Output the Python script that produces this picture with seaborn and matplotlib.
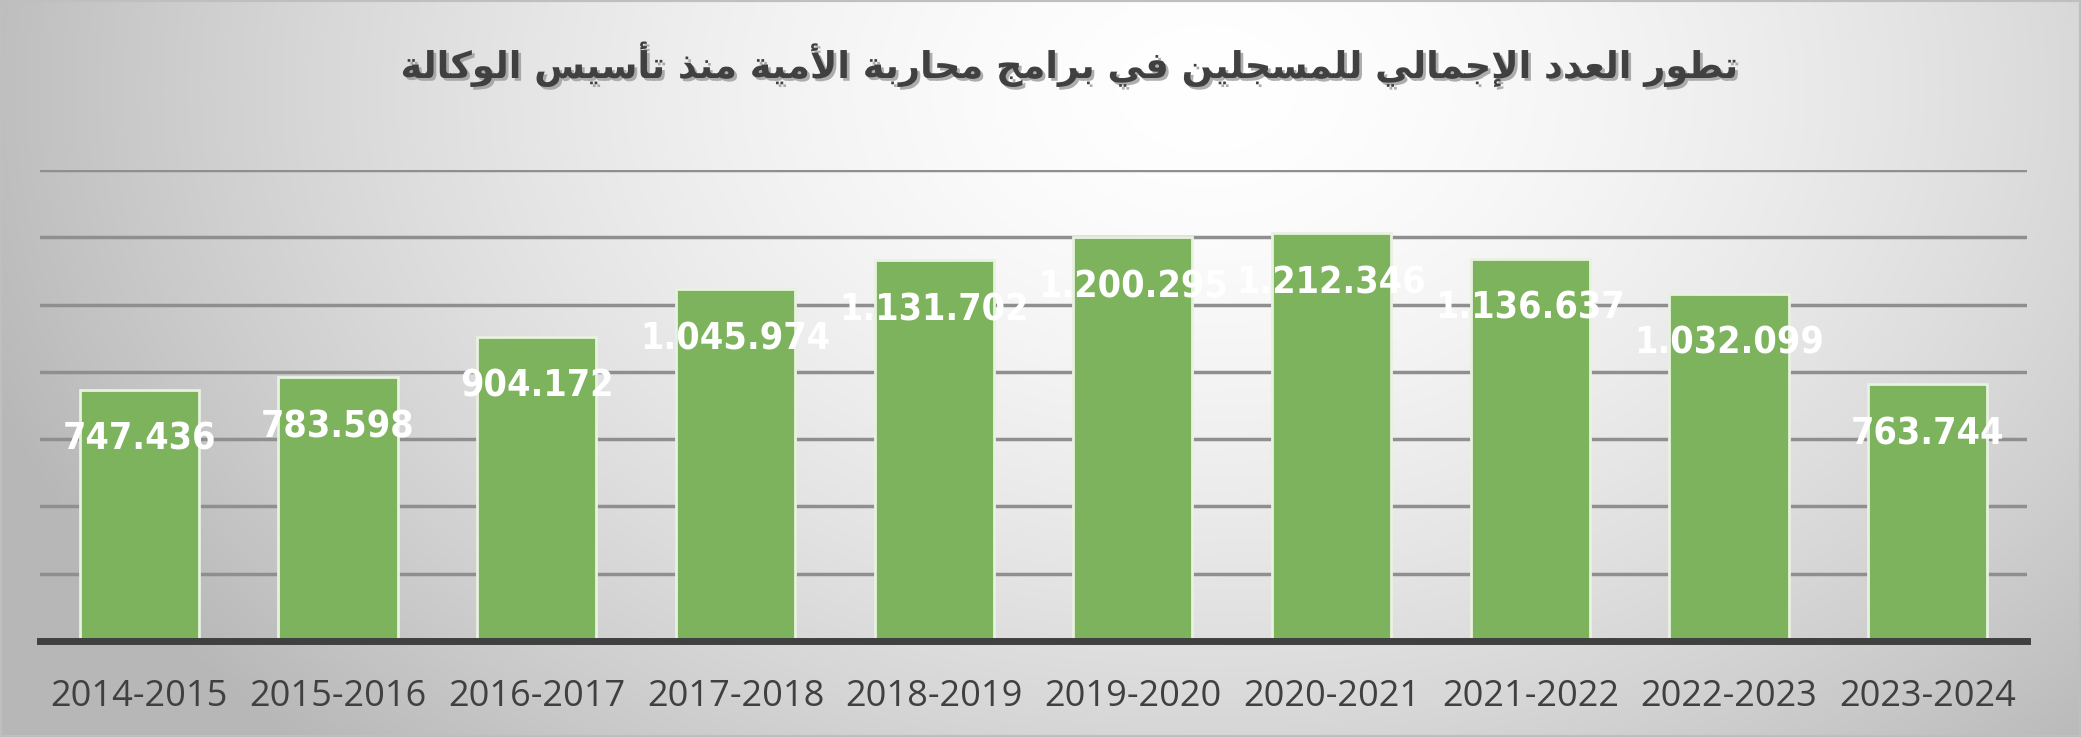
import numpy as np
import matplotlib
matplotlib.use("Agg")
import matplotlib.pyplot as plt
import matplotlib.patheffects as pe
import seaborn as sns

# ---------------- data ----------------
seasons = ["2014-2015", "2015-2016", "2016-2017", "2017-2018", "2018-2019",
           "2019-2020", "2020-2021", "2021-2022", "2022-2023", "2023-2024"]
enrolled = [747436, 783598, 904172, 1045974, 1131702,
            1200295, 1212346, 1136637, 1032099, 763744]
title_text = "تطور العدد الإجمالي للمسجلين في برامج محاربة الأمية منذ تأسيس الوكالة"

# ---------------- minimal Arabic shaping (matplotlib has no shaping/bidi) ----------------
FORMS = {
    "ا": (0xFE8D, 0xFE8E), "أ": (0xFE83, 0xFE84), "إ": (0xFE87, 0xFE88), "آ": (0xFE81, 0xFE82),
    "ب": (0xFE8F, 0xFE90, 0xFE91, 0xFE92), "ة": (0xFE93, 0xFE94),
    "ت": (0xFE95, 0xFE96, 0xFE97, 0xFE98), "ث": (0xFE99, 0xFE9A, 0xFE9B, 0xFE9C),
    "ج": (0xFE9D, 0xFE9E, 0xFE9F, 0xFEA0), "ح": (0xFEA1, 0xFEA2, 0xFEA3, 0xFEA4),
    "خ": (0xFEA5, 0xFEA6, 0xFEA7, 0xFEA8), "د": (0xFEA9, 0xFEAA), "ذ": (0xFEAB, 0xFEAC),
    "ر": (0xFEAD, 0xFEAE), "ز": (0xFEAF, 0xFEB0),
    "س": (0xFEB1, 0xFEB2, 0xFEB3, 0xFEB4), "ش": (0xFEB5, 0xFEB6, 0xFEB7, 0xFEB8),
    "ص": (0xFEB9, 0xFEBA, 0xFEBB, 0xFEBC), "ض": (0xFEBD, 0xFEBE, 0xFEBF, 0xFEC0),
    "ط": (0xFEC1, 0xFEC2, 0xFEC3, 0xFEC4), "ظ": (0xFEC5, 0xFEC6, 0xFEC7, 0xFEC8),
    "ع": (0xFEC9, 0xFECA, 0xFECB, 0xFECC), "غ": (0xFECD, 0xFECE, 0xFECF, 0xFED0),
    "ف": (0xFED1, 0xFED2, 0xFED3, 0xFED4), "ق": (0xFED5, 0xFED6, 0xFED7, 0xFED8),
    "ك": (0xFED9, 0xFEDA, 0xFEDB, 0xFEDC), "ل": (0xFEDD, 0xFEDE, 0xFEDF, 0xFEE0),
    "م": (0xFEE1, 0xFEE2, 0xFEE3, 0xFEE4), "ن": (0xFEE5, 0xFEE6, 0xFEE7, 0xFEE8),
    "ه": (0xFEE9, 0xFEEA, 0xFEEB, 0xFEEC), "و": (0xFEED, 0xFEEE),
    "ي": (0xFEF1, 0xFEF2, 0xFEF3, 0xFEF4), "ى": (0xFEEF, 0xFEF0),
}
LAM_ALEF = {"آ": (0xFEF5, 0xFEF6), "أ": (0xFEF7, 0xFEF8), "إ": (0xFEF9, 0xFEFA), "ا": (0xFEFB, 0xFEFC)}


def shape_arabic(s):
    out = []
    n = len(s)
    i = 0

    def dual(c):
        return c in FORMS and len(FORMS[c]) == 4

    while i < n:
        c = s[i]
        if c not in FORMS:
            out.append(c)
            i += 1
            continue
        prev = s[i - 1] if i > 0 else ""
        joins_prev = dual(prev)
        if c == "ل" and i + 1 < n and s[i + 1] in LAM_ALEF:
            iso, fin = LAM_ALEF[s[i + 1]]
            out.append(chr(fin if joins_prev else iso))
            i += 2
            continue
        nxt = s[i + 1] if i + 1 < n else ""
        joins_next = dual(c) and nxt in FORMS
        f = FORMS[c]
        if joins_prev and joins_next:
            out.append(chr(f[3]))
        elif joins_prev:
            out.append(chr(f[1]))
        elif joins_next:
            out.append(chr(f[2]))
        else:
            out.append(chr(f[0]))
        i += 1
    return "".join(out)[::-1]


# ---------------- figure ----------------
sns.set_style("white")
W, H = 2081, 737
fig = plt.figure(figsize=(W / 100, H / 100), dpi=100)

# background gradient
bg = fig.add_axes([0, 0, 1, 1], zorder=0)
yy, xx = np.mgrid[0:1:300j, 0:1:800j]
d = np.sqrt(((xx - 0.58) / 0.62) ** 2 + ((yy - 0.12) / 1.25) ** 2)
d = np.clip(d, 0, 1) ** 1.6
v = 1.0 - (1.0 - 0.72) * d
img = np.dstack([v, v, v])
bg.imshow(img, extent=[0, 1, 0, 1], aspect="auto", origin="upper")
bg.set_xlim(0, 1)
bg.set_ylim(0, 1)
bg.axis("off")
bg.add_patch(plt.Rectangle((0, 0), 1, 1, fill=False, edgecolor="#bfbfbf", lw=3,
                           transform=bg.transAxes))

ax = fig.add_axes([40 / W, 1 - 641 / H, 1987 / W, 471 / H], zorder=1)
ax.patch.set_alpha(0)

sns.barplot(x=seasons, y=enrolled, color="#7db35d", saturation=1, width=0.6,
            edgecolor="#e8f2e0", linewidth=2, ax=ax, zorder=2)

ax.set_xlim(-0.5, len(seasons) - 0.5)
ax.set_ylim(0, 1400000)
ax.set_yticks(np.arange(0, 1400001, 200000))
ax.set_yticklabels([])
ax.yaxis.grid(True, color="#8f8f8f", lw=2.5)
ax.xaxis.grid(False)
ax.set_axisbelow(True)
for sp in ["left", "right", "top"]:
    ax.spines[sp].set_visible(False)
ax.spines["bottom"].set_color("#404040")
ax.spines["bottom"].set_linewidth(5)
ax.spines["bottom"].set_zorder(5)
ax.tick_params(axis="both", length=0)
ax.tick_params(axis="x", pad=27)
ax.set_xlabel("")
ax.set_ylabel("")
for lbl in ax.get_xticklabels():
    lbl.set_fontfamily(["Open Sans", "DejaVu Sans"])
    lbl.set_fontsize(26)
    lbl.set_color("#404040")

for p, val in zip(ax.patches, enrolled):
    x = p.get_x() + p.get_width() / 2
    txt = f"{val:,}".replace(",", ".")
    ax.annotate(txt, (x, p.get_height()), xytext=(0, -36), textcoords="offset points",
                ha="center", va="center", color="white", fontsize=27, fontweight="bold",
                family=["DejaVu Sans"], fontstretch="condensed", zorder=6)

fig.text(1068 / W, 1 - 64 / H, shape_arabic(title_text), ha="center", va="center",
         fontsize=26.5, fontweight="bold", color="#404040", family=["DejaVu Sans"],
         path_effects=[pe.withSimplePatchShadow(offset=(2, -2), shadow_rgbFace="#9a9a9a", alpha=0.8)])

fig.savefig("out.png", dpi=100)
